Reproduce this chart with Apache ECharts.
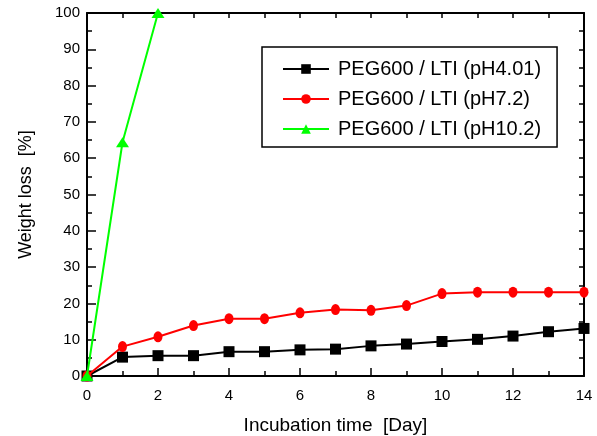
<!DOCTYPE html>
<html>
  <head>
    <meta charset="utf-8" />
    <title>Weight loss vs incubation time</title>
    <script src="https://cdn.jsdelivr.net/npm/echarts@6/dist/echarts.min.js"></script>
    <style>
      html, body { margin: 0; padding: 0; background: #fff; }
      #chart { width: 597px; height: 436px; }
    </style>
  </head>
  <body>
    <div id="chart"></div>
    <script type="text/javascript">
      // days of incubation
      var days = [0, 1, 2, 3, 4, 5, 6, 7, 8, 9, 10, 11, 12, 13, 14];
      var greenDays = [0, 1, 2];

      // weight loss [%]
      var ph401 = [0, 5.2, 5.6, 5.6, 6.7, 6.7, 7.2, 7.4, 8.3, 8.8, 9.5, 10.1, 11.0, 12.2, 13.1];
      var ph72 = [0, 8.1, 10.8, 13.9, 15.8, 15.8, 17.4, 18.3, 18.1, 19.4, 22.7, 23.1, 23.1, 23.1, 23.1];
      var ph102 = [0, 64.4, 100];

      var names = ["PEG600 / LTI (pH4.01)", "PEG600 / LTI (pH7.2)", "PEG600 / LTI (pH10.2)"];

      function pairs(xs, ys) {
        return xs.map(function (x, i) { return [x, ys[i]]; });
      }

      var font = "'Liberation Sans', Arial, sans-serif";
      var axisLine = { show: true, onZero: false, lineStyle: { color: "#000", width: 2 } };

      var chart = echarts.init(document.getElementById("chart"));

      var option = {
        animation: false,
        backgroundColor: "#fff",
        grid: { left: 87, top: 13, right: 13, bottom: 60, containLabel: false, outerBoundsMode: "none" },
        legend: {
          left: 262,
          top: 47,
          orient: "vertical",
          data: names,
          borderColor: "#000",
          borderWidth: 1.5,
          borderRadius: 0,
          padding: [12, 16, 8, 20],
          itemGap: 10,
          itemWidth: 46,
          itemHeight: 12,
          textStyle: { fontFamily: font, fontSize: 20, color: "#000", padding: [0, 0, 0, 4] },
        },
        xAxis: [
          {
            type: "value",
            min: 0,
            max: 14,
            interval: 2,
            name: "Incubation time  [Day]",
            nameLocation: "middle",
            nameGap: 40,
            nameTextStyle: { fontFamily: font, fontSize: 19, color: "#000" },
            axisLine: axisLine,
            axisTick: { inside: true, length: 8, lineStyle: { color: "#000", width: 1.5 } },
            minorTick: { show: true, splitNumber: 2, length: 5, lineStyle: { color: "#000", width: 1.5 } },
            axisLabel: { fontFamily: font, fontSize: 15, color: "#000", margin: 12 },
            splitLine: { show: false },
          },
          {
            type: "value",
            position: "top",
            min: 0,
            max: 14,
            interval: 1,
            axisLine: axisLine,
            axisTick: { inside: true, length: 5, lineStyle: { color: "#000", width: 1.5 } },
            axisLabel: { show: false },
            splitLine: { show: false },
          },
        ],
        yAxis: [
          {
            type: "value",
            min: 0,
            max: 100,
            interval: 10,
            name: "Weight loss  [%]",
            nameLocation: "middle",
            nameGap: 52,
            nameTextStyle: { fontFamily: font, fontSize: 18, color: "#000" },
            axisLine: axisLine,
            axisTick: { inside: true, length: 9, lineStyle: { color: "#000", width: 1.5 } },
            minorTick: { show: true, splitNumber: 2, length: 5, lineStyle: { color: "#000", width: 1.5 } },
            axisLabel: { fontFamily: font, fontSize: 15, color: "#000", margin: 7 },
            splitLine: { show: false },
          },
          {
            type: "value",
            position: "right",
            min: 0,
            max: 100,
            interval: 5,
            axisLine: axisLine,
            axisTick: { inside: true, length: 5, lineStyle: { color: "#000", width: 1.5 } },
            axisLabel: { show: false },
            splitLine: { show: false },
          },
        ],
        series: [
          {
            name: names[0],
            type: "line",
            data: pairs(days, ph401),
            symbol: "rect",
            symbolSize: 11,
            color: "#000",
            lineStyle: { width: 2, color: "#000" },
            itemStyle: { color: "#000" },
            z: 3,
          },
          {
            name: names[1],
            type: "line",
            data: pairs(days, ph72),
            symbol: "circle",
            symbolSize: [9, 11],
            color: "#ff0000",
            lineStyle: { width: 2, color: "#ff0000" },
            itemStyle: { color: "#ff0000" },
            z: 4,
          },
          {
            name: names[2],
            type: "line",
            data: pairs(greenDays, ph102),
            symbol: "triangle",
            symbolSize: [13, 10],
            color: "#00ff00",
            lineStyle: { width: 2, color: "#00ff00" },
            itemStyle: { color: "#00ff00" },
            z: 5,
          },
        ],
      };

      chart.setOption(option);
    </script>
  </body>
</html>
